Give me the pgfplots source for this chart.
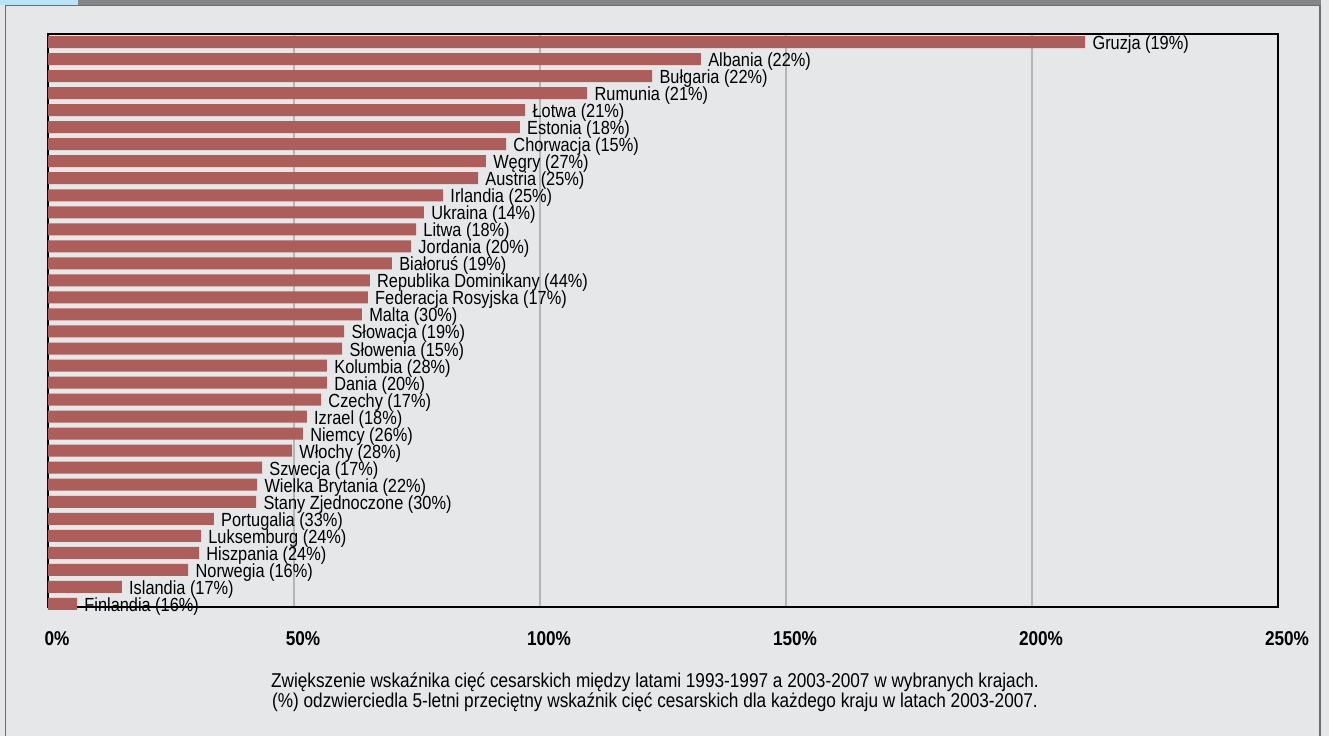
\documentclass[border=0pt]{standalone}
\usepackage{fontspec}
\setmainfont{Liberation Sans}[FakeStretch=0.86]
\usepackage{pgfplots}
\pgfplotsset{compat=1.18}
\definecolor{barc}{HTML}{AE5E5A}
\definecolor{bgc}{HTML}{E6E7E9}
\definecolor{bandc}{HTML}{858688}
\definecolor{tabc}{HTML}{B9E4F7}
\definecolor{framec}{HTML}{6D6E71}
\definecolor{gridc}{HTML}{B4B5B7}
\begin{document}
\begin{tikzpicture}
\fill[bgc] (-24pt,-64.5pt) rectangle (640.5pt,303.5pt);
\fill[bandc] (15pt,301pt) rectangle (636.5pt,303.5pt);
\fill[tabc] (-24pt,301pt) rectangle (15pt,303.5pt);
\draw[framec, line width=0.75pt] (-21.25pt,-64.5pt) -- (-21.25pt,300.8pt) -- (636pt,300.8pt) -- (636pt,-64.5pt);
\begin{axis}[
  at={(0,0)}, anchor=south west,
  scale only axis,
  width=615pt, height=286.5pt,
  xbar, bar width=6pt,
  xmin=0, xmax=250,
  ymin=-0.18, ymax=33.47,
  ytick=\empty,
  xtick={0,50,100,150,200,250},
  xticklabels={0\%,50\%,100\%,150\%,200\%,250\%},
  major tick length=0pt,
  xmajorgrids,
  grid style={gridc, line width=0.7pt},
  axis line style={black, line width=1pt},
  axis background/.style={fill=bgc},
  /pgf/number format/assume math mode=true,
  xticklabel style={font=\fontsize{10}{12}\selectfont\bfseries, yshift=-8.5pt, xshift=4.5pt},
  extra x ticks={0,250},
  extra x tick labels={},
  extra x tick style={major tick length=5pt, tick pos=bottom, tick style={black, line width=1pt}, xmajorgrids=false},
  point meta=explicit symbolic,
  nodes near coords={\pgfplotspointmeta},
  every node near coord/.append style={anchor=west, font=\fontsize{9.5}{11}\selectfont, inner sep=1pt, xshift=2.5pt, yshift=-1.3pt, black},
  clip=false,
]
\addplot[fill=barc, draw=none] coordinates {
(210.8,33) [Gruzja (19\%)]
(132.7,32) [Albania (22\%)]
(122.8,31) [Bułgaria (22\%)]
(109.6,30) [Rumunia (21\%)]
(97.0,29) [Łotwa (21\%)]
(95.9,28) [Estonia (18\%)]
(93.1,27) [Chorwacja (15\%)]
(89.0,26) [Węgry (27\%)]
(87.4,25) [Austria (25\%)]
(80.3,24) [Irlandia (25\%)]
(76.4,23) [Ukraina (14\%)]
(74.8,22) [Litwa (18\%)]
(73.8,21) [Jordania (20\%)]
(69.9,20) [Białoruś (19\%)]
(65.4,19) [Republika Dominikany (44\%)]
(65.0,18) [Federacja Rosyjska (17\%)]
(63.8,17) [Malta (30\%)]
(60.2,16) [Słowacja (19\%)]
(59.8,15) [Słowenia (15\%)]
(56.7,14) [Kolumbia (28\%)]
(56.7,13) [Dania (20\%)]
(55.5,12) [Czechy (17\%)]
(52.6,11) [Izrael (18\%)]
(51.8,10) [Niemcy (26\%)]
(49.6,9) [Włochy (28\%)]
(43.5,8) [Szwecja (17\%)]
(42.5,7) [Wielka Brytania (22\%)]
(42.3,6) [Stany Zjednoczone (30\%)]
(33.7,5) [Portugalia (33\%)]
(31.1,4) [Luksemburg (24\%)]
(30.7,3) [Hiszpania (24\%)]
(28.5,2) [Norwegia (16\%)]
(15.0,1) [Islandia (17\%)]
(5.9,0) [Finlandia (16\%)]
};
\node[align=center, font=\fontsize{10}{10}\selectfont, anchor=center] at (rel axis cs:0.4935,0) [yshift=-42.5pt] {Zwiększenie wskaźnika cięć cesarskich między latami 1993-1997 a 2003-2007 w wybranych krajach.\\(\%) odzwierciedla 5-letni przeciętny wskaźnik cięć cesarskich dla każdego kraju w latach 2003-2007.};
\end{axis}
\end{tikzpicture}
\end{document}
